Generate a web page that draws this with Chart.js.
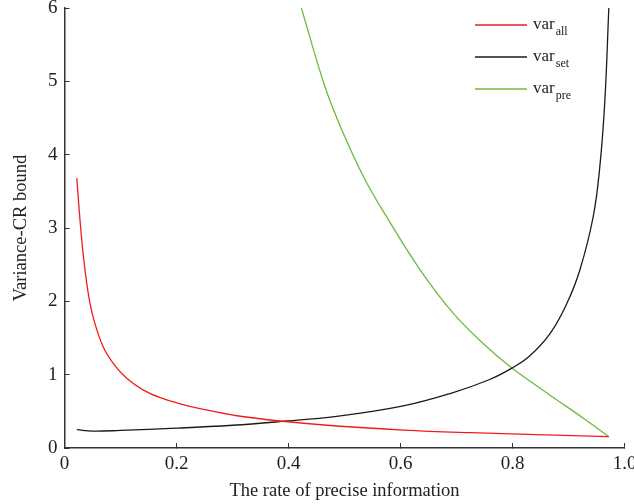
<!DOCTYPE html>
<html>
<head>
<meta charset="utf-8">
<script src="https://cdn.jsdelivr.net/npm/chart.js@4/dist/chart.umd.min.js"></script>
<style>
    html, body { margin: 0; padding: 0; background: #fff; }
    #wrap { width: 634px; height: 504px; position: relative; }
</style>
</head>
<body>
<div id="wrap"><canvas id="boundGraph"></canvas></div>
<script>
// values
const allX = [0.022, 0.028, 0.034, 0.043, 0.052, 0.069, 0.087, 0.111, 0.141, 0.171, 0.203, 0.248, 0.308, 0.385, 0.486, 0.605, 0.724, 0.843, 0.972];
const allY = [3.68, 3.08, 2.6, 2.08, 1.76, 1.38, 1.155, 0.95, 0.79, 0.686, 0.61, 0.527, 0.44, 0.368, 0.30, 0.245, 0.209, 0.182, 0.154];
const setX = [0.022, 0.05, 0.1, 0.2, 0.3, 0.385, 0.486, 0.605, 0.69, 0.757, 0.799, 0.83, 0.867, 0.897, 0.92, 0.944, 0.956, 0.965, 0.972];
const setY = [0.25, 0.23, 0.24, 0.27, 0.31, 0.36, 0.43, 0.573, 0.745, 0.927, 1.09, 1.25, 1.56, 1.97, 2.42, 3.15, 3.84, 4.75, 6.0];
const preX = [0.423, 0.465, 0.498, 0.537, 0.575, 0.635, 0.694, 0.754, 0.799, 0.867, 0.926, 0.972];
const preY = [6.0, 4.93, 4.29, 3.655, 3.155, 2.43, 1.84, 1.38, 1.09, 0.72, 0.41, 0.154];
const seriesNames = ["all", "set", "pre"];
const seriesColors = ["#f01c1c", "#1a1a1a", "#6cbb3c"];
const xTicks = [0, 0.2, 0.4, 0.6, 0.8, 1.0];
const yTicks = [0, 1, 2, 3, 4, 5, 6];

const FONT = "'Liberation Serif', 'Times New Roman', serif";
const AXIS_COLOR = "#333";

function to_points(xs, ys) {
    return xs.map((x, i) => ({ x: x, y: ys[i] }));
}

function make_dataset(name, xs, ys, color) {
    return {
        label: "var" + name,
        data: to_points(xs, ys),
        borderColor: color,
        borderWidth: 1.3,
        pointRadius: 0,
        tension: 0.4,
        fill: false,
    };
}

// legend with subscripts, drawn as canvas text
const subLegend = {
    id: "subLegend",
    afterDraw(chart) {
        const ctx = chart.ctx;
        ctx.save();
        seriesNames.forEach((name, i) => {
            const y = 25 + i * 32;
            ctx.strokeStyle = seriesColors[i];
            ctx.lineWidth = 1.3;
            ctx.beginPath();
            ctx.moveTo(475, y);
            ctx.lineTo(527, y);
            ctx.stroke();
            ctx.fillStyle = "#222";
            ctx.textBaseline = "alphabetic";
            ctx.textAlign = "left";
            ctx.font = "17px " + FONT;
            ctx.fillText("var", 533, y + 4);
            const w = ctx.measureText("var").width;
            ctx.font = "12px " + FONT;
            ctx.fillText(name, 533 + w + 1, y + 10);
        });
        ctx.restore();
    },
};

function build_config() {
    const datasets = [
        make_dataset(seriesNames[0], allX, allY, seriesColors[0]),
        make_dataset(seriesNames[1], setX, setY, seriesColors[1]),
        make_dataset(seriesNames[2], preX, preY, seriesColors[2]),
    ];
    return {
        type: "line",
        data: { datasets: datasets },
        plugins: [subLegend],
        options: {
            responsive: true,
            maintainAspectRatio: false,
            animation: false,
            layout: { padding: { top: 8, right: 9.5, left: 0.5, bottom: 0 } },
            plugins: { legend: { display: false }, tooltip: { enabled: false } },
            scales: {
                x: {
                    type: "linear",
                    min: 0,
                    max: 1,
                    afterBuildTicks: (scale) => { scale.ticks = xTicks.map(v => ({ value: v })); },
                    afterFit: (scale) => {
                        scale.height = 56;
                        scale.paddingLeft = 0;
                        scale.paddingRight = 0;
                    },
                    ticks: {
                        color: "#222",
                        font: { family: FONT, size: 19 },
                        padding: 10,
                        maxRotation: 0,
                        callback: (v) => (v === 0 ? "0" : v.toFixed(1)),
                    },
                    grid: { drawOnChartArea: false, drawTicks: true, tickLength: -5, color: AXIS_COLOR, lineWidth: 1 },
                    border: { display: true, color: AXIS_COLOR, width: 1.5 },
                    title: {
                        display: true,
                        text: "The rate of precise information",
                        color: "#222",
                        font: { family: FONT, size: 18.5 },
                        padding: { top: 0, bottom: 2 },
                    },
                },
                y: {
                    type: "linear",
                    min: 0,
                    max: 6,
                    afterBuildTicks: (scale) => { scale.ticks = yTicks.map(v => ({ value: v })); },
                    afterFit: (scale) => {
                        scale.width = 64;
                        scale.paddingTop = 0;
                        scale.paddingBottom = 0;
                    },
                    ticks: {
                        color: "#222",
                        font: { family: FONT, size: 19 },
                        padding: 12,
                    },
                    grid: { drawOnChartArea: false, drawTicks: true, tickLength: -5, color: AXIS_COLOR, lineWidth: 1 },
                    border: { display: true, color: AXIS_COLOR, width: 1.5 },
                    title: {
                        display: true,
                        text: "Variance-CR bound",
                        color: "#222",
                        font: { family: FONT, size: 18.5 },
                        padding: { top: 10, bottom: 0 },
                    },
                },
            },
        },
    };
}

function create_bound_graph() {
    return new Chart("boundGraph", build_config());
}

create_bound_graph();
</script>
</body>
</html>
